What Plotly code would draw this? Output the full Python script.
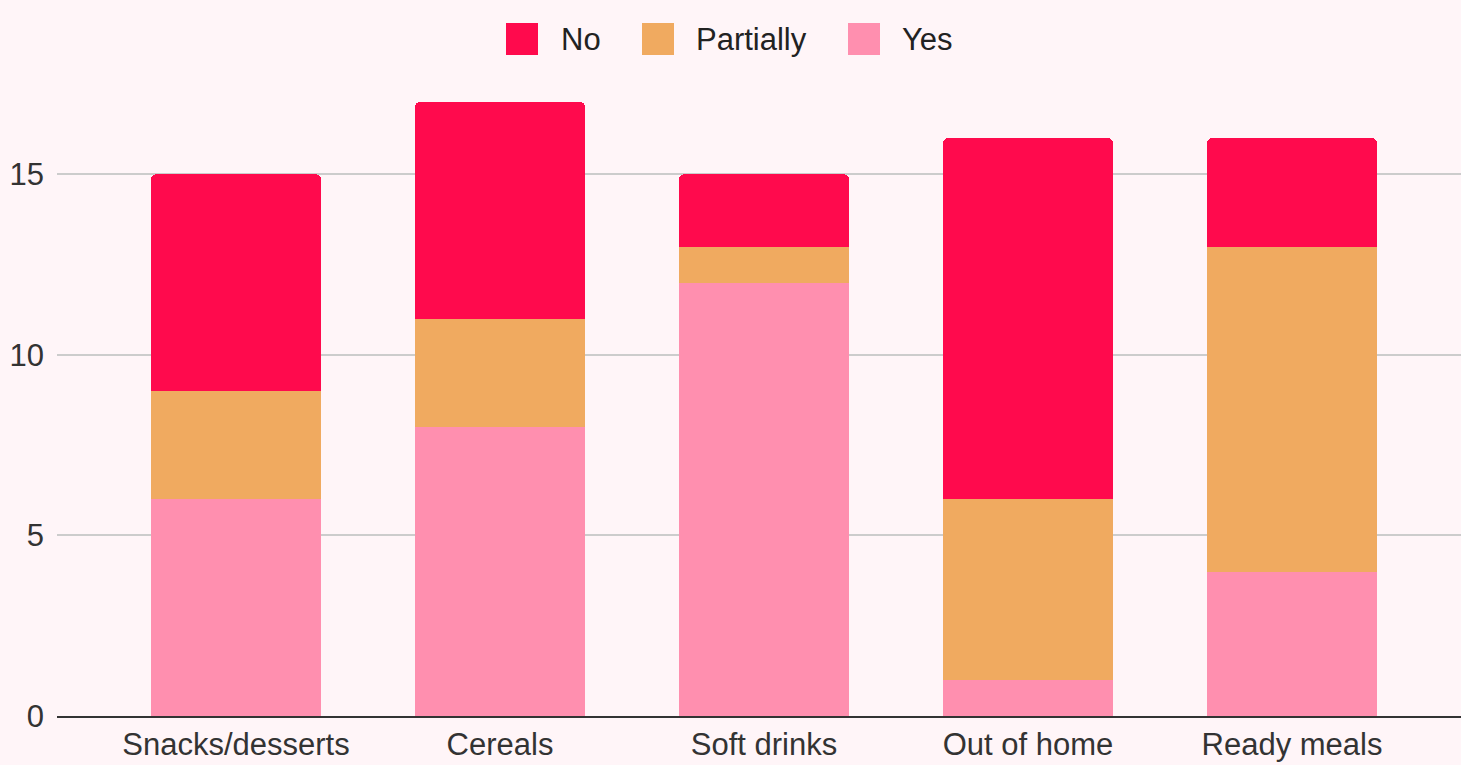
import plotly.graph_objects as go

categories = ["Snacks/desserts", "Cereals", "Soft drinks", "Out of home", "Ready meals"]
series_names = ["Yes", "Partially", "No"]
yes_vals = [6, 8, 12, 1, 4]
partially_vals = [3, 3, 1, 5, 9]
no_vals = [6, 6, 2, 10, 3]
colors = {"No": "#FF0A4D", "Partially": "#F0AA60", "Yes": "#FF8FAF"}
legend_order = ["No", "Partially", "Yes"]
y_ticks = [0, 5, 10, 15]

values = {"Yes": yes_vals, "Partially": partially_vals, "No": no_vals}

W, H = 1461, 765
ML, MR, MT, MB = 57, 0, 84, 49
BG = "#FFF5F8"
FS = 31

fig = go.Figure()
for name in series_names:
    fig.add_trace(go.Bar(
        x=categories, y=values[name], name=name,
        marker=dict(color=colors[name], line=dict(width=0)),
        width=0.644, showlegend=False,
    ))

# manual legend (large square swatches)
pw = W - ML - MR
ph = H - MT - MB
def px_to_paper_x(px):
    return (px - ML) / pw
def py_to_paper_y(py):
    return (H - MB - py) / ph

legend_pos = [(506, 559), (642, 694), (848, 900)]
for name, (sx, tx) in zip(legend_order, legend_pos):
    fig.add_shape(type="rect", xref="paper", yref="paper",
                  x0=px_to_paper_x(sx), x1=px_to_paper_x(sx + 32),
                  y0=py_to_paper_y(23), y1=py_to_paper_y(55),
                  fillcolor=colors[name], line=dict(width=0), layer="above")
    fig.add_annotation(xref="paper", yref="paper", x=px_to_paper_x(tx), y=py_to_paper_y(39),
                       text=name, showarrow=False, xanchor="left", yanchor="middle",
                       font=dict(size=FS, color="#222222", family="Liberation Sans, Arial"))

fig.update_layout(
    width=W, height=H,
    margin=dict(l=ML, r=MR, t=MT, b=MB),
    barmode="stack",
    barcornerradius=5,
    paper_bgcolor=BG, plot_bgcolor=BG,
    font=dict(family="Liberation Sans, Arial", size=FS, color="#333333"),
    xaxis=dict(range=[-0.678, 4.640], showgrid=False, showline=True, linecolor="#333333",
               linewidth=2, ticks="", tickfont=dict(size=FS, color="#333333")),
    yaxis=dict(range=[0, 17.5], tickvals=y_ticks, showgrid=True, gridcolor="#CCCCCC",
               gridwidth=2, zeroline=False, showline=False, ticks="",
               ticklabelstandoff=12, tickfont=dict(size=FS, color="#333333")),
)

fig.write_html("out.html", config={"displayModeBar": False},
               post_script="document.body.style.margin='0';document.body.style.background='#FFF5F8';")
